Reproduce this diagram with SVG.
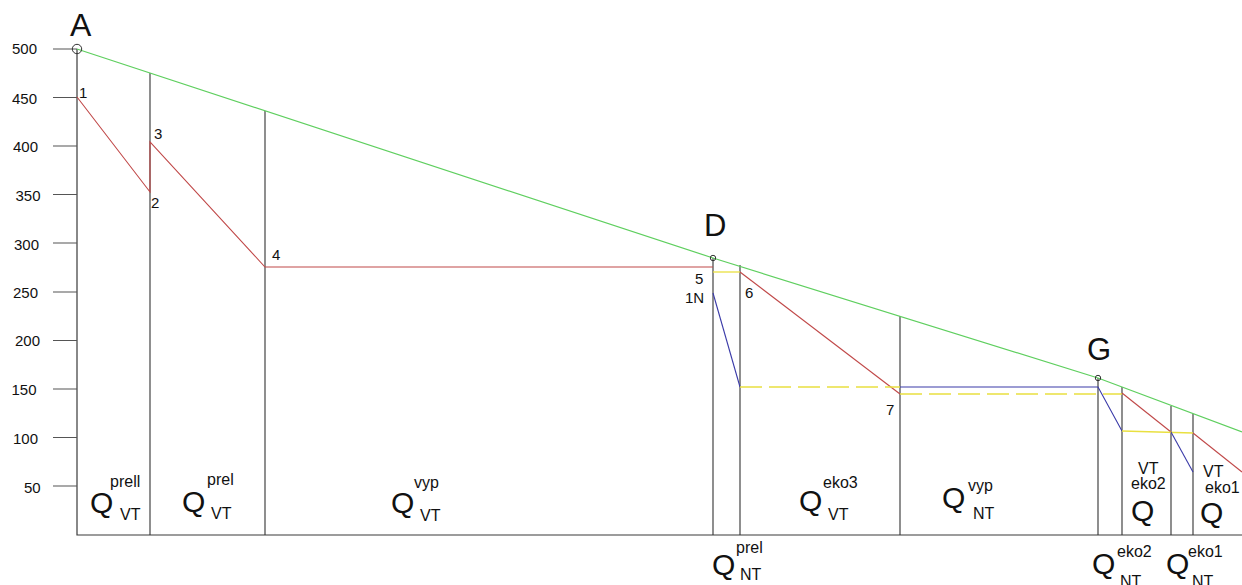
<svg xmlns="http://www.w3.org/2000/svg" width="1242" height="585" viewBox="0 0 1242 585">
<style>
.bg{fill:#ffffff}
.ax{stroke:#3a3a3a;stroke-width:1.2;fill:none}
.tk{stroke:#555555;stroke-width:1.2;fill:none}
.vl{stroke:#333333;stroke-width:1.1;fill:none}
.gr{stroke:#5fcf5f;stroke-width:1.2;fill:none}
.rd{stroke:#c04848;stroke-width:1.1;fill:none}
.bl{stroke:#3a3aa8;stroke-width:1.1;fill:none}
.yl{stroke:#e9e040;stroke-width:1.3;fill:none}
.yd{stroke:#e9e040;stroke-width:1.3;fill:none;stroke-dasharray:22 7}
.pt{stroke:#333333;stroke-width:1;fill:none}
text{font-family:"Liberation Sans",Arial,sans-serif;fill:#111111}
.tl{font-size:15px}
.nm{font-size:15px}
.big{font-size:31px}
.q{font-size:30px}
.s{font-size:16px}
</style>
<rect class="bg" x="0" y="0" width="1242" height="585"/>
<g id="axis">
<path class="ax" d="M77,49 L77,535 L1242,535"/>
<path class="tk" d="M53,49 H77 M53,97.5 H77 M53,146 H77 M53,194.5 H77 M53,243 H77 M53,292 H77 M53,340.5 H77 M53,389 H77 M53,437.5 H77 M53,486 H77"/>
<text class="tl" x="12" y="54">500</text>
<text class="tl" x="12" y="104">450</text>
<text class="tl" x="13" y="152">400</text>
<text class="tl" x="15.5" y="201">350</text>
<text class="tl" x="14" y="250">300</text>
<text class="tl" x="13" y="298">250</text>
<text class="tl" x="15" y="346">200</text>
<text class="tl" x="11.5" y="395">150</text>
<text class="tl" x="13" y="443.5">100</text>
<text class="tl" x="24" y="492.5">50</text>
</g>
<g id="verticals">
<path class="vl" d="M150,73 V535 M265,111 V535 M713,258 V535 M740,265 V535 M900,316 V535 M1098,378 V535 M1122,387 V535 M1171,406 V535 M1193,414 V535"/>
</g>
<g id="connectors">
<path class="gr" d="M77,49 L713,258 L1098,378 L1242,432"/>
<path class="rd" d="M77,97 L150,192 L150,142 L265,267 L713,267"/>
<path class="yl" d="M713,272 L740,272"/>
<path class="rd" d="M740,272 L900,394"/>
<path class="bl" d="M713,293 L740,387"/>
<path class="yd" d="M740,387 L900,387"/>
<path class="yd" d="M900,394 L1122,394"/>
<path class="bl" d="M900,387 L1098,387 L1122,431"/>
<path class="rd" d="M1122,393 L1171,432"/>
<path class="yl" d="M1122,431 L1193,433"/>
<path class="bl" d="M1171,432 L1193,472"/>
<path class="rd" d="M1193,433 L1242,472"/>
</g>
<g id="node-A">
<circle class="pt" cx="77" cy="49" r="4.7"/>
<text class="big" x="70" y="36" style="font-size:32px">A</text>
</g>
<g id="node-D">
<circle class="pt" cx="713" cy="258" r="2.7"/>
<text class="big" x="704" y="236">D</text>
</g>
<g id="node-G">
<circle class="pt" cx="1098" cy="378" r="2.7"/>
<text class="big" x="1087" y="360">G</text>
</g>
<g id="points">
<text class="nm" x="79" y="98">1</text>
<text class="nm" x="151" y="208">2</text>
<text class="nm" x="154" y="139">3</text>
<text class="nm" x="272" y="260">4</text>
<text class="nm" x="695" y="284">5</text>
<text class="nm" x="685" y="303">1N</text>
<text class="nm" x="745" y="298">6</text>
<text class="nm" x="886" y="415">7</text>
</g>
<g id="labels">
<text class="q" x="90" y="513">Q</text><text class="s" x="110" y="487">prell</text><text class="s" x="120" y="520">VT</text>
<text class="q" x="182" y="512">Q</text><text class="s" x="207" y="485">prel</text><text class="s" x="211" y="519">VT</text>
<text class="q" x="391" y="513">Q</text><text class="s" x="414" y="488">vyp</text><text class="s" x="420" y="521">VT</text>
<text class="q" x="799" y="511">Q</text><text class="s" x="823" y="488">eko3</text><text class="s" x="828" y="520">VT</text>
<text class="q" x="942" y="508">Q</text><text class="s" x="968" y="491">vyp</text><text class="s" x="973" y="519">NT</text>
<text class="q" x="712" y="575">Q</text><text class="s" x="736" y="553">prel</text><text class="s" x="740" y="580">NT</text>
<text class="q" x="1092" y="574">Q</text><text class="s" x="1117" y="557">eko2</text><text class="s" x="1120" y="587">NT</text>
<text class="q" x="1166" y="574">Q</text><text class="s" x="1188" y="557">eko1</text><text class="s" x="1192" y="587">NT</text>
<text class="s" x="1138" y="474">VT</text><text class="s" x="1131" y="489">eko2</text><text class="q" x="1131" y="521">Q</text>
<text class="s" x="1203" y="477">VT</text><text class="s" x="1205" y="493">eko1</text><text class="q" x="1200" y="523">Q</text>
</g>
</svg>
